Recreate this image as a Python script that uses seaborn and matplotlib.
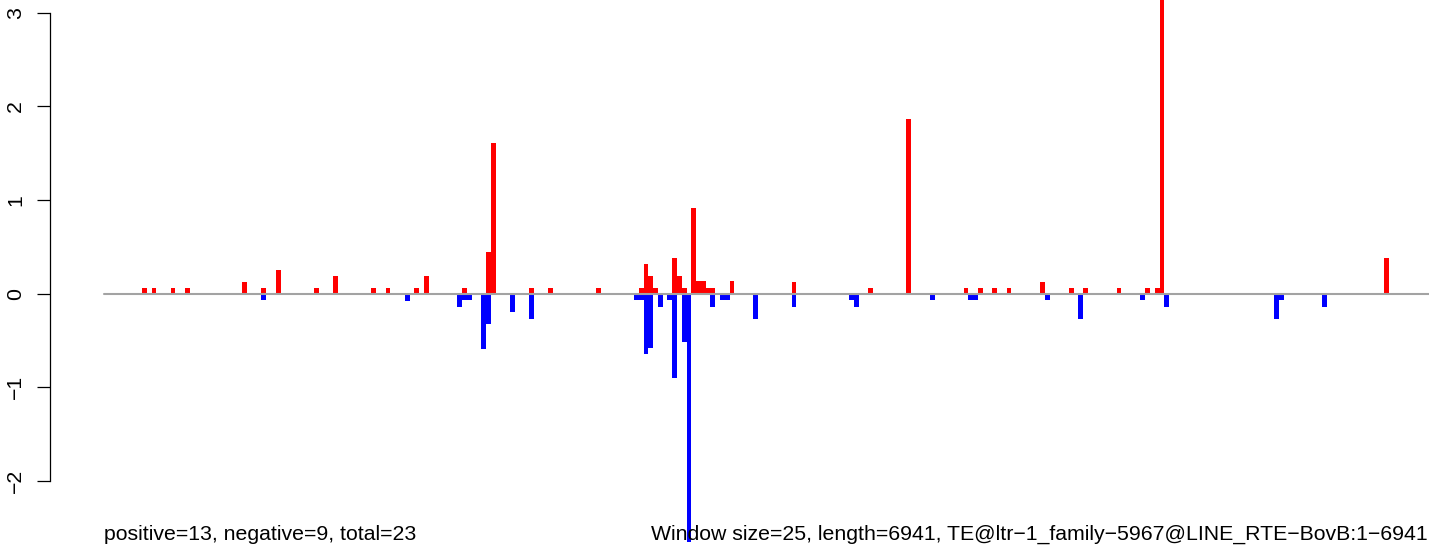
import numpy as np
import pandas as pd
import matplotlib
matplotlib.use("Agg")
import matplotlib.pyplot as plt
import seaborn as sns

window = 25
seq_length = 6941
te_name = "TE@ltr−1_family−5967@LINE_RTE−BovB:1−6941"
summary = "positive=13, negative=9, total=23"

# window index -> score
pos_windows = [8, 10, 14, 17, 29, 33, 36, 44, 48, 56, 59, 65, 67, 75, 80,
               81, 89, 93, 103, 112, 113, 114, 115, 119, 120, 121, 123, 124,
               125, 126, 127, 131, 144, 160, 168, 180, 183, 186, 189, 196,
               202, 205, 212, 218, 220, 221, 268]
pos_values = [0.06, 0.06, 0.06, 0.06, 0.125, 0.06, 0.25, 0.06, 0.19, 0.06,
              0.06, 0.06, 0.19, 0.06, 0.445, 1.61, 0.06, 0.06, 0.06, 0.06,
              0.32, 0.19, 0.06, 0.385, 0.19, 0.06, 0.91, 0.13, 0.13, 0.06,
              0.06, 0.13, 0.125, 0.06, 1.87, 0.06, 0.06, 0.06, 0.06, 0.125,
              0.06, 0.06, 0.06, 0.06, 0.06, 3.4, 0.38]

neg_windows = [33, 63, 74, 75, 76, 79, 80, 85, 89, 111, 112, 113, 114, 116,
               118, 119, 121, 122, 127, 129, 130, 136, 144, 156, 157, 173,
               181, 182, 197, 204, 217, 222, 245, 246, 255]
neg_values = [-0.07, -0.075, -0.14, -0.07, -0.07, -0.59, -0.33, -0.2, -0.27,
              -0.07, -0.07, -0.65, -0.58, -0.14, -0.07, -0.9, -0.52, -2.9,
              -0.14, -0.07, -0.07, -0.27, -0.14, -0.07, -0.14, -0.07, -0.07,
              -0.07, -0.07, -0.27, -0.07, -0.14, -0.27, -0.07, -0.14]

n_win = int(np.ceil(seq_length / window))
pos = np.zeros(n_win)
pos[pos_windows] = pos_values
neg = np.zeros(n_win)
neg[neg_windows] = neg_values
df = pd.DataFrame({"mid": np.arange(n_win) * window + window / 2,
                   "pos": pos, "neg": neg})

sns.set_style("white")
plt.rcParams["font.family"] = ["Liberation Sans", "DejaVu Sans"]
plt.rcParams["text.color"] = "black"

W, H = 1429, 546
fig = plt.figure(figsize=(W / 100, H / 100), dpi=100)
ax = fig.add_axes([50 / W, (H - 542) / H, (W - 50) / W, 542 / H])

sns.barplot(data=df, x="mid", y="pos", native_scale=True, width=1,
            color="#ff0000", saturation=1, errorbar=None, linewidth=0, ax=ax)
sns.barplot(data=df, x="mid", y="neg", native_scale=True, width=1,
            color="#0000ff", saturation=1, errorbar=None, linewidth=0, ax=ax)
ax.plot([0, seq_length], [0, 0], color="#a3a3a3", lw=1.5, zorder=5)

ax.set_xlim(-281.6, 6935.3)
ax.set_ylim(-2.654, 3.137)
ax.set_xlabel("")
ax.set_ylabel("")
ax.set_xticks([])
for s in ["top", "right", "bottom"]:
    ax.spines[s].set_visible(False)
ax.spines["left"].set_bounds(-2, 3)
ax.spines["left"].set_color("black")
ax.spines["left"].set_linewidth(0.9)
ax.set_yticks([-2, -1, 0, 1, 2, 3])
ax.tick_params(axis="y", left=True, length=9.4, width=0.9, pad=8.5,
               labelsize=15.3, colors="black")
plt.setp(ax.get_yticklabels(), rotation=90, va="center")

fig.text(104 / W, 1 - 540 / H, summary, ha="left", va="baseline",
         fontsize=15.3, color="black")
fig.text(1428 / W, 1 - 540 / H,
         f"Window size={window}, length={seq_length}, {te_name}",
         ha="right", va="baseline", fontsize=15.3, color="black")

fig.savefig("out.png", dpi=100)
